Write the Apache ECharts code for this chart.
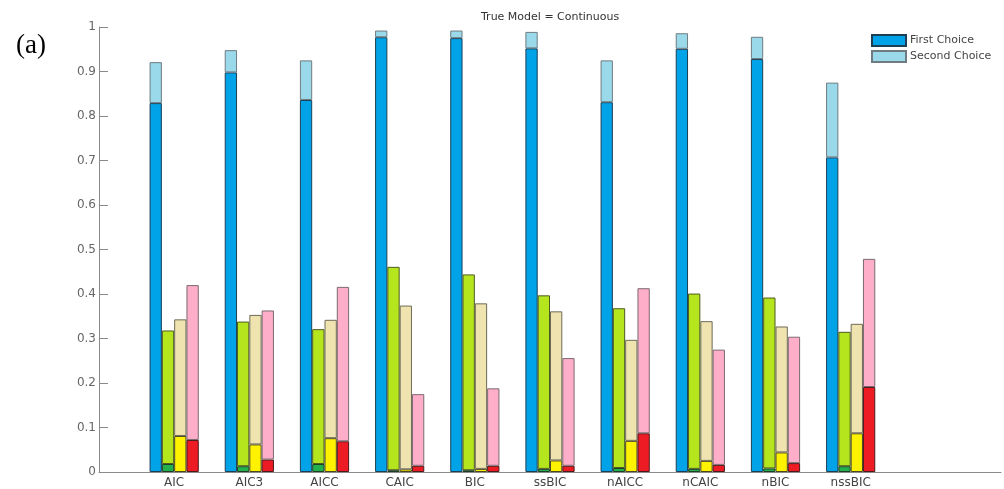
<!DOCTYPE html>
<html>
<head>
<meta charset="utf-8">
<script src="https://cdn.jsdelivr.net/npm/echarts@6/dist/echarts.min.js"></script>
<style>
  html, body { margin: 0; padding: 0; background: #fff; }
  #chart { width: 1004px; height: 489px; }
</style>
</head>
<body>
<div id="chart"></div>
<script>
// Information criteria compared
const categories = ['AIC', 'AIC3', 'AICC', 'CAIC', 'BIC', 'ssBIC', 'nAICC', 'nCAIC', 'nBIC', 'nssBIC'];

// Blue group: first choice and the extra share picked as second choice
const blueFirst  = [0.829, 0.898, 0.836, 0.977, 0.975, 0.952, 0.831, 0.951, 0.928, 0.707];
const blueSecond = [0.092, 0.050, 0.089, 0.015, 0.017, 0.037, 0.094, 0.035, 0.050, 0.168];

// Green group
const greenFirst  = [0.018, 0.013, 0.018, 0.004, 0.004, 0.007, 0.009, 0.007, 0.008, 0.013];
const greenSecond = [0.300, 0.325, 0.303, 0.457, 0.440, 0.390, 0.359, 0.394, 0.384, 0.302];

// Yellow group
const yellowFirst  = [0.081, 0.062, 0.076, 0.006, 0.007, 0.026, 0.070, 0.025, 0.044, 0.087];
const yellowSecond = [0.262, 0.291, 0.266, 0.368, 0.372, 0.335, 0.227, 0.314, 0.283, 0.246];

// Red group
const redFirst  = [0.072, 0.028, 0.069, 0.014, 0.014, 0.014, 0.087, 0.016, 0.020, 0.191];
const redSecond = [0.348, 0.335, 0.347, 0.161, 0.174, 0.242, 0.326, 0.259, 0.284, 0.288];

const yTicks = { min: 0, max: 1, step: 0.1 };

const FONT = 'DejaVu Sans';
const BAR_W = 12.3;

// x runs over 13 slots (0..12): slot 0 is the left edge, slots 1..10 hold the criteria,
// the rest is the empty margin on the right
const slots = [''].concat(categories, ['', '']);

function pts(values) {
  return values.map((v, i) => [i + 1, v]);
}

function barSeries(name, stack, values, fill, edge) {
  return {
    name: name,
    type: 'bar',
    stack: stack,
    data: pts(values),
    barWidth: BAR_W,
    barGap: '0%',
    itemStyle: { color: fill, borderColor: edge, borderWidth: 1 },
    emphasis: { disabled: true },
    animation: false
  };
}

const chart = echarts.init(document.getElementById('chart'), null, { renderer: 'canvas' });

chart.setOption({
  backgroundColor: '#ffffff',
  animation: false,
  title: [
    {
      text: 'True Model = Continuous',
      left: 476, top: 7,
      textStyle: { fontFamily: FONT, fontSize: 11, fontWeight: 'normal', color: '#333' }
    },
    {
      text: '(a)',
      left: 11, top: 27,
      textStyle: { fontFamily: 'Liberation Serif', fontSize: 27, fontWeight: 'normal', color: '#000' }
    }
  ],
  legend: {
    data: ['First Choice', 'Second Choice'],
    orient: 'vertical',
    left: 866, top: 29,
    itemWidth: 34, itemHeight: 11, itemGap: 3,
    icon: 'rect',
    selectedMode: false,
    textStyle: { fontFamily: FONT, fontSize: 11, color: '#444', padding: [0, 0, 0, -1] }
  },
  grid: { left: 99, top: 27, width: 911, height: 446, containLabel: false },
  xAxis: {
    type: 'category',
    data: slots,
    boundaryGap: false,
    axisLine: { show: true, onZero: false, lineStyle: { color: '#8a8a8a', width: 1 } },
    axisTick: { show: false },
    splitLine: { show: false },
    axisLabel: { interval: 0, fontFamily: FONT, fontSize: 12, color: '#444', margin: 5 }
  },
  yAxis: {
    type: 'value',
    min: yTicks.min, max: yTicks.max, interval: yTicks.step,
    axisLine: { show: true, lineStyle: { color: '#8a8a8a', width: 1 } },
    axisTick: { show: true, inside: true, length: 9, lineStyle: { color: '#8a8a8a' } },
    splitLine: { show: false },
    axisLabel: {
      fontFamily: FONT, fontSize: 12, color: '#666', margin: 3,
      formatter: v => String(Math.round(v * 10) / 10)
    }
  },
  series: [
    barSeries('First Choice', 'blue', blueFirst, '#00a2e8', '#1c3f55'),
    barSeries('Second Choice', 'blue', blueSecond, '#99d9ea', '#6f7b80'),
    barSeries('Green First', 'green', greenFirst, '#22b14c', '#1f3d26'),
    barSeries('Green Second', 'green', greenSecond, '#b5e61d', '#4d5a20'),
    barSeries('Yellow First', 'yellow', yellowFirst, '#fff200', '#4a4620'),
    barSeries('Yellow Second', 'yellow', yellowSecond, '#efe4b0', '#6e6a58'),
    barSeries('Red First', 'red', redFirst, '#ed1c24', '#4a1a1c'),
    barSeries('Red Second', 'red', redSecond, '#ffaec9', '#7a6a70')
  ]
});
</script>
</body>
</html>
